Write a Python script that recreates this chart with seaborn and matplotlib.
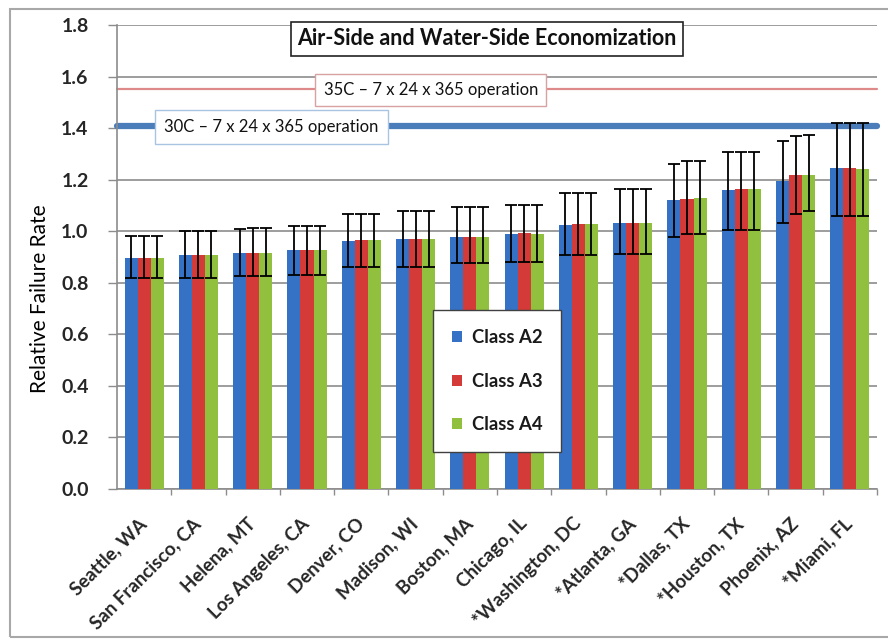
import matplotlib
matplotlib.use("Agg")
import matplotlib.pyplot as plt
import matplotlib.patches as mpatches
import numpy as np
import pandas as pd
import seaborn as sns

cities = ["Seattle, WA", "San Francisco, CA", "Helena, MT", "Los Angeles, CA",
          "Denver, CO", "Madison, WI", "Boston, MA", "Chicago, IL",
          "*Washington, DC", "*Atlanta, GA", "*Dallas, TX", "*Houston, TX",
          "Phoenix, AZ", "*Miami, FL"]
classes = ["Class A2", "Class A3", "Class A4"]

a2 = [0.897, 0.907, 0.916, 0.926, 0.963, 0.970, 0.978, 0.990, 1.024, 1.032, 1.120, 1.160, 1.195, 1.245]
a3 = [0.897, 0.907, 0.916, 0.926, 0.965, 0.971, 0.979, 0.993, 1.028, 1.033, 1.126, 1.162, 1.220, 1.246]
a4 = [0.897, 0.907, 0.916, 0.926, 0.965, 0.970, 0.979, 0.990, 1.028, 1.033, 1.130, 1.162, 1.220, 1.243]

a2_lo = [0.817, 0.820, 0.826, 0.832, 0.861, 0.861, 0.877, 0.880, 0.906, 0.910, 0.977, 1.005, 1.032, 1.060]
a2_hi = [0.983, 1.000, 1.010, 1.022, 1.067, 1.077, 1.094, 1.100, 1.148, 1.164, 1.262, 1.307, 1.349, 1.420]
a3_lo = [0.817, 0.820, 0.826, 0.832, 0.861, 0.861, 0.877, 0.880, 0.906, 0.910, 0.990, 1.005, 1.065, 1.060]
a3_hi = [0.983, 1.000, 1.012, 1.022, 1.067, 1.077, 1.094, 1.100, 1.148, 1.164, 1.271, 1.307, 1.368, 1.420]
a4_lo = [0.817, 0.820, 0.826, 0.832, 0.861, 0.861, 0.877, 0.880, 0.906, 0.910, 0.990, 1.005, 1.077, 1.060]
a4_hi = [0.983, 1.000, 1.012, 1.022, 1.067, 1.077, 1.094, 1.100, 1.148, 1.164, 1.271, 1.307, 1.375, 1.420]

ref_30c = 1.41
ref_35c = 1.55
yticks = [0.0, 0.2, 0.4, 0.6, 0.8, 1.0, 1.2, 1.4, 1.6, 1.8]

colors = ["#3572C6", "#D43A37", "#90C03E"]

df = pd.DataFrame({
    "city": cities * 3,
    "cls": sum([[c] * len(cities) for c in classes], []),
    "rate": a2 + a3 + a4,
})

sns.set_theme(style="white")
plt.rcParams["font.family"] = ["Lato", "DejaVu Sans"]

fig = plt.figure(figsize=(8.88, 6.4), dpi=100)
ax = fig.add_axes([117 / 888, 1 - 489 / 640, 760 / 888, 464 / 640])

sns.barplot(data=df, x="city", y="rate", hue="cls", order=cities, hue_order=classes,
            palette=colors, width=0.72, gap=0, errorbar=None, saturation=1,
            edgecolor="none", linewidth=0, ax=ax, zorder=3)

# error bars
los = [a2_lo, a3_lo, a4_lo]
his = [a2_hi, a3_hi, a4_hi]
vals = [a2, a3, a4]
for cont, v, lo, hi in zip(ax.containers, vals, los, his):
    xs = [b.get_x() + b.get_width() / 2 for b in cont]
    v = np.array(v); lo = np.array(lo); hi = np.array(hi)
    ax.errorbar(xs, v, yerr=[v - lo, hi - v], fmt="none", ecolor="black",
                elinewidth=1.3, capsize=4, capthick=1.3, zorder=5)

# reference lines
ax.axhline(ref_35c, color="#DE8A8A", lw=1.6, zorder=2, clip_on=False)
ax.axhline(ref_30c, color="#4A7DBA", lw=4.5, zorder=2, clip_on=False)

ax.set_ylim(0, 1.8)
ax.set_xlim(-0.5, len(cities) - 0.5)
ax.set_yticks(yticks)
ax.set_yticklabels([f"{t:.1f}" for t in yticks], fontsize=14, fontweight="bold")
ax.yaxis.grid(True, color="#8C8C8C", lw=1.2, zorder=0)
ax.set_axisbelow(True)

for s in ["top", "right"]:
    ax.spines[s].set_visible(False)
for s in ["left", "bottom"]:
    ax.spines[s].set_color("#8C8C8C")
    ax.spines[s].set_linewidth(1.2)

ax.tick_params(axis="y", direction="out", length=6.5, width=1.0, color="#8C8C8C",
               pad=14, left=True)
ax.set_xticks(range(len(cities)))
ax.set_xticklabels(cities, rotation=45, ha="right", rotation_mode="anchor",
                   va="center", fontsize=13.5, fontweight="bold")
ax.tick_params(axis="x", length=0, pad=23, bottom=True)
ax.set_xticks(np.arange(0.5, len(cities), 1.0), minor=True)
ax.tick_params(axis="x", which="minor", direction="out", length=4, width=1.0,
               color="#8C8C8C", bottom=True)

ax.set_xlabel("")
ax.set_ylabel("Relative Failure Rate", fontsize=15, va="center", color="black")
ax.yaxis.set_label_coords(-0.101, 0.41)

leg = ax.legend(loc="lower left", bbox_to_anchor=(0.416, 0.08, 0.168, 0.301),
                mode="expand", frameon=True, fancybox=False, fontsize=13.3,
                handlelength=0.55, handleheight=0.55, labelspacing=1.45,
                borderpad=1.0, handletextpad=0.55, borderaxespad=0, framealpha=1,
                title=None)
leg.get_frame().set_edgecolor("#404040")
leg.get_frame().set_linewidth(1.0)
for t in leg.get_texts():
    t.set_fontweight("bold")
    t.set_color("#1A1A1A")
leg.set_zorder(10)

# text boxes
ax.text(0.487, 0.970, "Air-Side and Water-Side Economization", transform=ax.transAxes,
        ha="center", va="center", fontsize=15.5, fontweight="bold", color="#111111", zorder=11,
        bbox=dict(boxstyle="square,pad=0.3", fc="white", ec="#222222", lw=1.2))
ax.text(0.413, 0.860, "35C \u2013 7 x 24 x 365 operation", transform=ax.transAxes,
        ha="center", va="center", fontsize=12, color="#111111", zorder=11,
        bbox=dict(boxstyle="square,pad=0.5", fc="white", ec="#D9A2A2", lw=1.0))
ax.text(0.203, 0.780, "30C \u2013 7 x 24 x 365 operation", transform=ax.transAxes,
        ha="center", va="center", fontsize=12, color="#111111", zorder=11,
        bbox=dict(boxstyle="square,pad=0.55", fc="white", ec="#A9C3E3", lw=1.0))

# outer frame
fig.patches.append(mpatches.Rectangle((10 / 888, 3 / 640), 1.2, 628 / 640, fill=False,
                                      ec="#A8A8A8", lw=1.5, transform=fig.transFigure))

fig.savefig("out.png", dpi=100, facecolor="white")
